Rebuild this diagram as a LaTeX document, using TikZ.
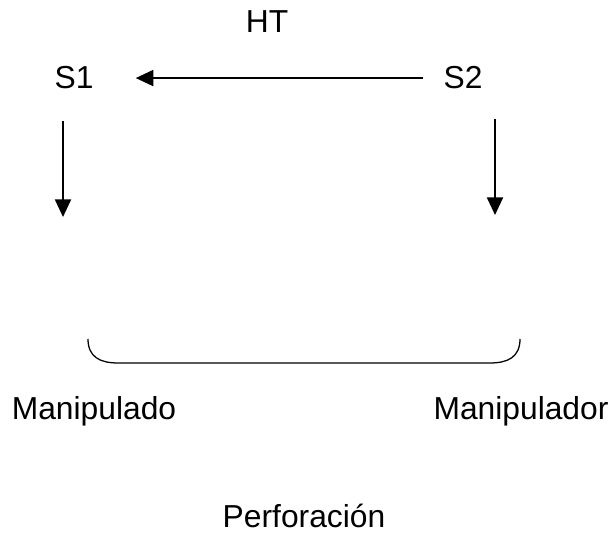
\documentclass[tikz,border=0pt]{standalone}
\usepackage{fontspec}
\setmainfont{Liberation Sans}
\usepackage{tikz}
\usetikzlibrary{arrows.meta}

\tikzset{lbl/.style={inner sep=0pt,anchor=base,font=\fontsize{22.6}{27}\selectfont},
  arr/.style={line width=1.4pt,-{Triangle[length=0.44cm,width=0.4cm]}}}

\begin{document}
\begin{tikzpicture}[x=0.025cm,y=-0.025cm]
\useasboundingbox (0,0) rectangle (610,536);
\node[lbl](ht) at (267,33) {HT};
\node[lbl](s1) at (74,89) {S1};
\node[lbl](s2) at (463,89) {S2};
\node[lbl](mdo) at (94,419) {Manipulado};
\node[lbl](mdor) at (521,419) {Manipulador};
\node[lbl](perf) at (304,527) {Perforación};
\coordinate (a1) at (63,121);
\coordinate (b1) at (63,217);
\coordinate (a2) at (495,119);
\coordinate (b2) at (495,215);
\draw[arr,shorten <=0.5cm,shorten >=1.05cm](s2.west)--(s1.east);
\draw[arr](a1)--(b1);
\draw[arr](a2)--(b2);
\draw[line width=0.9pt](88,339) .. controls (88,357) and (100,363) .. (118,363)
  --(490,363) .. controls (508,363) and (520,357) .. (520,339);
\end{tikzpicture}
\end{document}
